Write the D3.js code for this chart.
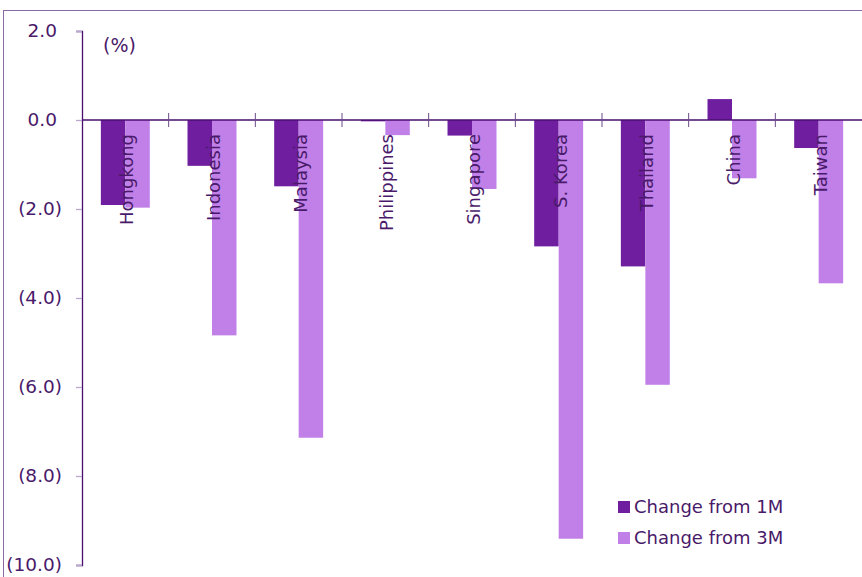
<!DOCTYPE html>
<html><head><meta charset="utf-8">
<script src="https://cdn.jsdelivr.net/npm/d3@7"></script>
<style>body{margin:0;background:#fff}svg{display:block}text{font-family:"DejaVu Sans",Verdana,sans-serif;fill:#4a1a6a}</style>
</head><body>
<script>
const categories = ["Hongkong","Indonesia","Malaysia","Philippines","Singapore","S. Korea","Thailand","China","Taiwan"];
const change1M = [-1.91,-1.03,-1.49,-0.03,-0.35,-2.84,-3.29,0.47,-0.63];
const change3M = [-1.97,-4.84,-7.14,-0.34,-1.55,-9.41,-5.95,-1.31,-3.67];
const seriesNames = ["Change from 1M","Change from 3M"];
const yTicks = [2,0,-2,-4,-6,-8,-10];
const colors = ["#6e1e9e","#c180e8"];

const W=862,H=577;
const svg=d3.select("body").append("svg").attr("width",W).attr("height",H);
svg.append("rect").attr("x",3.5).attr("y",10.5).attr("width",W+10).attr("height",H+10)
  .attr("fill","none").attr("stroke","#8a6aa3").attr("stroke-width",1);

const x0=82,x1=862;
const y=d3.scaleLinear().domain([-10,2]).range([565,31]);
const x=d3.scaleBand().domain(categories).range([x0,x1]).paddingInner(0.435).paddingOuter(0.2175);
const xs=d3.scaleBand().domain(seriesNames).range([0,x.bandwidth()]);

// bars
const series=[change1M,change3M];
series.forEach((vals,si)=>{
  svg.append("g").selectAll("rect").data(vals).join("rect")
    .attr("x",(d,i)=>x(categories[i])+xs(seriesNames[si]))
    .attr("width",xs.bandwidth())
    .attr("y",d=>y(Math.max(0,d)))
    .attr("height",d=>Math.abs(y(d)-y(0)))
    .attr("fill",colors[si]);
});

// y axis
const yAxis=d3.axisLeft(y).tickValues(yTicks).tickSize(6).tickPadding(14)
  .tickFormat(d=>d<0?"("+d3.format(".1f")(-d)+")":d3.format(".1f")(d));
const gy=svg.append("g").attr("transform",`translate(${x0},0)`).call(yAxis);
gy.select(".domain").attr("stroke","#4a0e70").attr("stroke-width",1.3);
gy.selectAll(".tick line").attr("stroke","#b9a6cc").attr("stroke-width",1.3);
gy.selectAll(".tick text").style("font-size","18.5px").attr("fill","#4a1a6a")
  .attr("dx",d=>d>=0?-5:0);

// x axis at zero
const step=(x1-x0)/categories.length;
const bounds=d3.range(1,categories.length).map(i=>x0+i*step);
svg.append("line").attr("x1",x0).attr("x2",x1).attr("y1",y(0)).attr("y2",y(0))
  .attr("stroke","#4a0e70").attr("stroke-width",1.3);
svg.append("g").selectAll("line").data(bounds).join("line")
  .attr("x1",d=>d).attr("x2",d=>d).attr("y1",y(0)-7).attr("y2",y(0)+7)
  .attr("stroke","#6a4a88").attr("stroke-width",1);

// category labels
svg.append("g").selectAll("text").data(categories).join("text")
  .attr("transform",d=>`translate(${x(d)+x.bandwidth()/2+8},${y(0)+14}) rotate(-90)`)
  .attr("text-anchor","end").style("font-size","18px").text(d=>d);

// unit label
svg.append("text").attr("x",103).attr("y",52).style("font-size","19px").text("(%)");

// legend
const lg=svg.append("g").attr("transform","translate(618,501)");
seriesNames.forEach((n,i)=>{
  lg.append("rect").attr("x",0).attr("y",i*31).attr("width",12).attr("height",12).attr("fill",colors[i]);
  lg.append("text").attr("x",16).attr("y",i*31+12).style("font-size","18px").text(n);
});
</script>
</body></html>
